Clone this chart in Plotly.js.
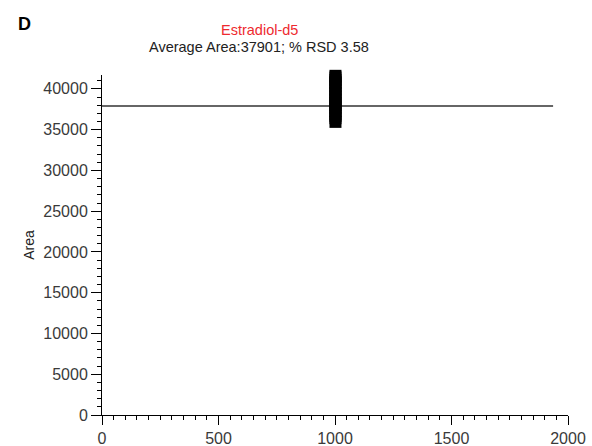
<!DOCTYPE html>
<html>
<head>
<meta charset="utf-8">
<script src="https://cdn.plot.ly/plotly-3.0.1.min.js"></script>
<style>html,body{margin:0;padding:0;background:#fff;}#chart{width:592px;height:446px;}</style>
</head>
<body>
<div id="chart"></div>
<script>
// Injection number and peak area of the replicate injections (clustered near 1000)
const injection = [1002, 1002, 1002, 1002, 1002, 1002, 1002, 1002, 1002, 1002, 1002, 1002, 1002, 1002, 1002, 1002];
const area = [35950, 36400, 36900, 37300, 37700, 38000, 38300, 38700, 39100, 39500, 39900, 40300, 40700, 41100, 41400, 41600];
// Average line
const avgX = [0, 1936];
const avgY = [37901, 37901];
const xTicks = [0, 500, 1000, 1500, 2000];
const yTicks = [0, 5000, 10000, 15000, 20000, 25000, 30000, 35000, 40000];
const panelLabel = "D";
const compound = "Estradiol-d5";
const subtitle = "Average Area:37901; % RSD 3.58";
const yTitle = "Area";

const traces = [
  {x: avgX, y: avgY, mode: 'lines', line: {color: '#333', width: 1.6}, hoverinfo: 'skip', cliponaxis: false},
  {x: injection, y: area, mode: 'lines+markers', line: {color: '#000', width: 12},
   marker: {symbol: 'square', size: 12, color: '#000', line: {width: 0}}, cliponaxis: false}
];

const FF = 'Liberation Sans, Arial, sans-serif';
const tickFont = {family: FF, size: 16, color: '#3a3a3a'};
const layout = {
  width: 592, height: 446,
  margin: {l: 102, r: 24, t: 75, b: 31},
  paper_bgcolor: '#fff', plot_bgcolor: '#fff',
  showlegend: false,
  xaxis: {
    range: [0, 2000], tickvals: xTicks, ticktext: xTicks.map(String),
    showgrid: false, zeroline: false, showline: true, linecolor: '#000', linewidth: 1,
    ticks: 'outside', ticklen: 9, tickcolor: '#000', tickwidth: 1, tickfont: tickFont,
    minor: {dtick: 50, ticks: 'outside', ticklen: 4, tickcolor: '#000', tickwidth: 1, showgrid: false}
  },
  yaxis: {
    range: [0, 41700], tickvals: yTicks, ticktext: yTicks.map(String),
    showgrid: false, zeroline: false, showline: true, linecolor: '#000', linewidth: 1,
    ticks: 'outside', ticklen: 10, tickcolor: '#000', tickwidth: 1, tickfont: tickFont,
    minor: {dtick: 1000, ticks: 'outside', ticklen: 4, tickcolor: '#000', tickwidth: 1, showgrid: false},
    title: {text: yTitle, font: {family: FF, size: 14, color: '#222'}, standoff: 5}
  },
  annotations: [
    {text: '<b>' + panelLabel + '</b>', xref: 'paper', yref: 'paper', x: -0.184, y: 1.15, xanchor: 'left', yanchor: 'middle', showarrow: false,
     font: {family: FF, size: 18, color: '#000'}},
    {text: compound, xref: 'paper', yref: 'paper', x: 0.337, y: 1.132, xanchor: 'center', yanchor: 'middle', showarrow: false,
     font: {family: FF, size: 14.5, color: '#ee2a2f'}},
    {text: subtitle, xref: 'paper', yref: 'paper', x: 0.337, y: 1.082, xanchor: 'center', yanchor: 'middle', showarrow: false,
     font: {family: FF, size: 14.5, color: '#222'}}
  ]
};
Plotly.newPlot('chart', traces, layout, {displayModeBar: false, staticPlot: true});
</script>
</body>
</html>
